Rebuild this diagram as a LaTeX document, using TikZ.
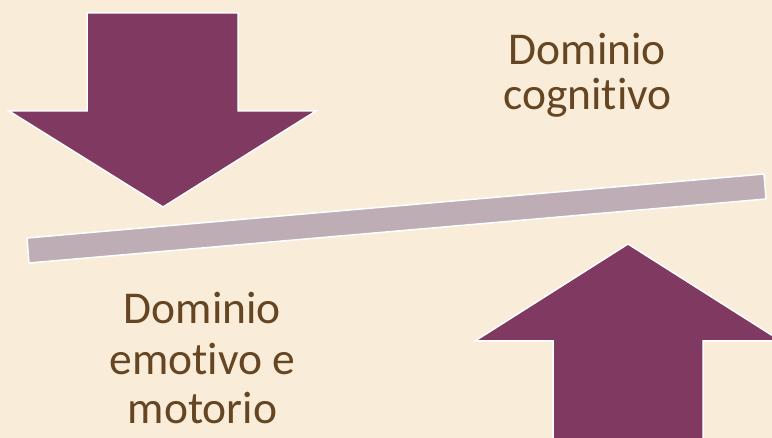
\documentclass[tikz,border=0pt]{standalone}
\usepackage{fontspec}
\setmainfont[Ligatures={NoCommon,NoRequired,NoContextual}]{Carlito}
\definecolor{bgc}{HTML}{F9EDD9}
\definecolor{arrowc}{HTML}{803A61}
\definecolor{barc}{HTML}{BEADB5}
\definecolor{txtc}{HTML}{654522}
\begin{document}
\begin{tikzpicture}[x=1pt,y=-1pt,
  bigarrow/.style={fill=arrowc,draw=white,line width=1.5pt,line join=miter},
  beam/.style={fill=barc,draw=white,line width=1.5pt},
  lbl/.style={text=txtc,font=\fontsize{45.5}{50}\selectfont,anchor=base,inner sep=0pt}]
\fill[bgc] (0,0) rectangle (772,438);
\useasboundingbox (0,0) rectangle (772,438);
% top arrow
\draw[bigarrow] (87,13) -- (238,13) -- (238,111) -- (316,111) -- (163,207) -- (9,111) -- (87,111) -- cycle;
% beam
\draw[beam] (27,238) -- (764,174) -- (766,199) -- (29,263) -- cycle;
% bottom arrow
\draw[bigarrow] (553,445) -- (553,341) -- (475,341) -- (628,244) -- (781,341) -- (703,341) -- (703,445);
% texts
\node[lbl] (t1) at (587.5,65) {Dominio};
\node[lbl] (t2) at (587.5,110) {cognitivo};
\node[lbl] (b1) at (202.5,324) {Dominio};
\node[lbl] (b2) at (202.5,375) {emotivo e};
\node[lbl] (b3) at (202.5,424) {motorio};
\end{tikzpicture}
\end{document}
